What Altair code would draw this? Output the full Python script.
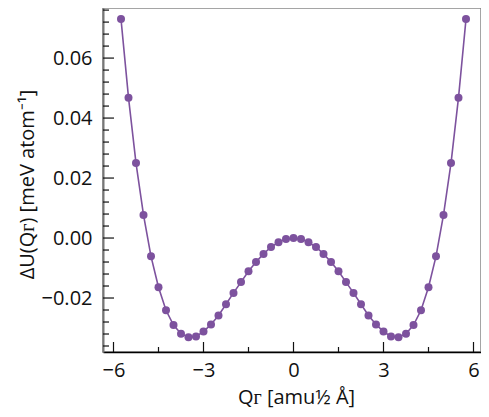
import altair as alt
import pandas as pd

# Data
q = [-5.75, -5.5, -5.25, -5.0, -4.75, -4.5, -4.25, -4.0, -3.75, -3.5, -3.25, -3.0,
     -2.75, -2.5, -2.25, -2.0, -1.75, -1.5, -1.25, -1.0, -0.75, -0.5, -0.25, 0.0,
     0.25, 0.5, 0.75, 1.0, 1.25, 1.5, 1.75, 2.0, 2.25, 2.5, 2.75, 3.0,
     3.25, 3.5, 3.75, 4.0, 4.25, 4.5, 4.75, 5.0, 5.25, 5.5, 5.75]
du = [0.0730, 0.0468, 0.0250, 0.0077, -0.0061, -0.0164, -0.0241, -0.0290, -0.0319, -0.0331, -0.0328, -0.0312,
      -0.0288, -0.0258, -0.0221, -0.0183, -0.0147, -0.0111, -0.0080, -0.0053, -0.0030, -0.0014, -0.0003, 0.0000,
      -0.0003, -0.0014, -0.0030, -0.0053, -0.0080, -0.0111, -0.0147, -0.0183, -0.0221, -0.0258, -0.0288, -0.0312,
      -0.0328, -0.0331, -0.0319, -0.0290, -0.0241, -0.0164, -0.0061, 0.0077, 0.0250, 0.0468, 0.0730]

x_major = [-6, -3, 0, 3, 6]
x_minor = [-4.5, -1.5, 1.5, 4.5]
y_major = [-0.02, 0.0, 0.02, 0.04, 0.06]
y_minor = [-0.036, -0.032, -0.028, -0.024, -0.016, -0.012, -0.008, -0.004,
           0.004, 0.008, 0.012, 0.016, 0.024, 0.028, 0.032, 0.036,
           0.044, 0.048, 0.052, 0.056, 0.064, 0.068, 0.072, 0.076]

W, H = 378, 344
PURPLE = "#7D529E"
FONT = "Open Sans"

df = pd.DataFrame({"Q": q, "U": du})
xs = alt.Scale(domain=[-6.35, 6.25], nice=False, zero=False)
ys = alt.Scale(domain=[-0.038, 0.0767], nice=False, zero=False)

x_axis = alt.Axis(values=x_major, ticks=False, grid=False, labelFont=FONT, labelFontSize=20,
                  labelPadding=8, labelColor="#111", domainColor="black", domainWidth=1.5,
                  title="Qᴦ [amu½ Å]", titleFont=FONT, titleFontSize=20, titleFontWeight="normal",
                  titleColor="#111", titleBaseline="alphabetic", titleY=51, titleX=193)
y_axis = alt.Axis(values=y_major, format=".2f", ticks=False, grid=False, labelFont=FONT,
                  labelFontSize=20, labelPadding=11, labelColor="#111", domainColor="#777",
                  domainWidth=2, title="ΔU(Qᴦ) [meV atom⁻¹]", titleFont=FONT, titleFontSize=20,
                  titleFontWeight="normal", titleColor="#111", titleAngle=-90,
                  titleBaseline="alphabetic", titleX=-70, titleY=H / 2 + 4, titleAlign="center")

X = alt.X("Q:Q", scale=xs, axis=x_axis)
Y = alt.Y("U:Q", scale=ys, axis=y_axis)

base = alt.Chart(df)
line = base.mark_line(color=PURPLE, strokeWidth=1.6).encode(x=X, y=Y)
pts = base.mark_circle(color=PURPLE, size=64, opacity=1).encode(x=X, y=Y)

xt_major = alt.Chart(pd.DataFrame({"Q": x_major})).mark_rule(color="#111", strokeWidth=1.2).encode(
    x=X, y=alt.value(H), y2=alt.value(H - 10))
xt_minor = alt.Chart(pd.DataFrame({"Q": x_minor})).mark_rule(color="#111", strokeWidth=1.2).encode(
    x=X, y=alt.value(H), y2=alt.value(H - 5))
yt_major = alt.Chart(pd.DataFrame({"U": y_major})).mark_rule(color="#111", strokeWidth=1.2).encode(
    y=Y, x=alt.value(0), x2=alt.value(11))
yt_minor = alt.Chart(pd.DataFrame({"U": y_minor})).mark_rule(color="#111", strokeWidth=1.2).encode(
    y=Y, x=alt.value(0), x2=alt.value(6))

chart = alt.layer(line, pts, xt_major, xt_minor, yt_major, yt_minor).properties(
    width=W, height=H,
    autosize=alt.AutoSizeParams(type="none"),
    padding={"left": 95, "top": 0, "right": 0, "bottom": 57},
).configure_view(stroke="#888", strokeWidth=1.5)

chart.save("out.html", embed_options={"renderer": "svg", "actions": False})
